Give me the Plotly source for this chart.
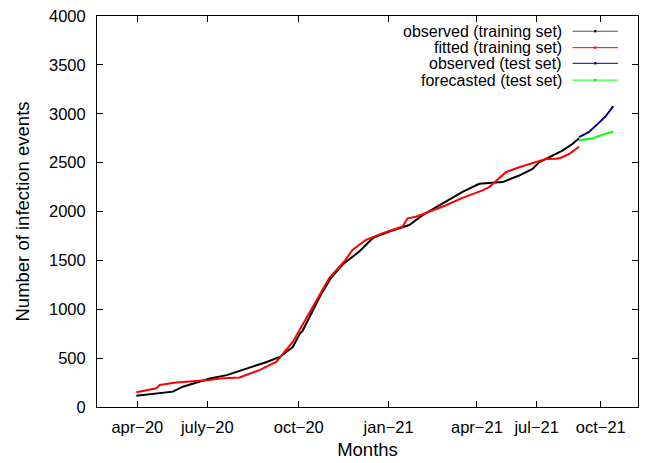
import plotly.graph_objects as go

# x positions are a time index (axis units); tick labels mark months
tick_pos = [40.4, 110.4, 202.0, 292.0, 380.4, 440.2, 504.4]
tick_text = ["apr−20", "july−20", "oct−20", "jan−21", "apr−21", "jul−21", "oct−21"]

obs_train_x = [39.4, 53, 63, 76, 86, 113, 130, 146, 170, 183, 196, 203, 206, 216, 224.4,
               234.4, 246, 262.7, 276, 292.7, 312.7, 326, 346, 366, 382.7, 399.4, 406,
               422.7, 436, 442.7, 452.7, 466, 476, 482.7]
obs_train_y = [116, 130, 145, 157, 208, 292, 326, 377, 461, 512, 613, 748, 782, 985, 1153,
               1322, 1457, 1592, 1727, 1795, 1862, 1963, 2082, 2200, 2284, 2294, 2301,
               2368, 2436, 2503, 2555, 2622, 2690, 2750]

fit_train_x = [39.4, 59.4, 62.7, 79.4, 112.7, 122.7, 142.7, 152.7, 162.7, 179.4, 186, 196,
               204.4, 211, 214.4, 232.7, 247.7, 256, 262.7, 269.4, 286, 299.4, 306, 311,
               319.4, 332.7, 349.4, 366, 386, 392.7, 402.7, 409.4, 422.7, 436, 449.4,
               459.4, 464, 472.7, 482.7]
fit_train_y = [150, 191, 225, 251, 276, 292, 302, 342, 377, 461, 545, 665, 815, 934, 985,
               1322, 1491, 1609, 1660, 1710, 1778, 1828, 1846, 1930, 1947, 1998, 2064,
               2140, 2216, 2250, 2340, 2402, 2453, 2497, 2537, 2540, 2548, 2588, 2662]

obs_test_x = [482.7, 492.7, 502.7, 509.4, 517]
obs_test_y = [2760, 2814, 2909, 2976, 3078]

fc_test_x = [482.7, 489.4, 496, 502.7, 509.4, 517]
fc_test_y = [2730, 2740, 2747, 2774, 2798, 2818]

series_names = ["observed (training set)", "fitted (training set)",
                "observed (test set)", "forecasted (test set)"]
series_colors = ["#000000", "#ff0000", "#00008b", "#00ff00"]
legend_line_colors = ["#555555", "#ff0000", "#00008b", "#00ff00"]

FONT = "Liberation Sans, Arial, Helvetica, sans-serif"

fig = go.Figure()
for xs, ys, name, col in zip([obs_train_x, fit_train_x, obs_test_x, fc_test_x],
                             [obs_train_y, fit_train_y, obs_test_y, fc_test_y],
                             series_names, series_colors):
    fig.add_trace(go.Scatter(x=xs, y=ys, mode="lines", name=name,
                             line=dict(color=col, width=2), showlegend=False))

# gnuplot-style legend: right-aligned text, line sample to the right
leg_y = [0.961, 0.919, 0.879, 0.836]
for name, col, lcol, yy in zip(series_names, series_colors, legend_line_colors, leg_y):
    fig.add_annotation(xref="paper", yref="paper", x=0.863, y=yy, text=name,
                       showarrow=False, xanchor="right", yanchor="middle",
                       font=dict(family=FONT, size=16, color="black"))
    fig.add_shape(type="line", xref="paper", yref="paper", x0=0.879, x1=0.963,
                  y0=yy, y1=yy, line=dict(color=lcol, width=1))
    fig.add_shape(type="rect", xref="paper", yref="paper", x0=0.919, x1=0.923,
                  y0=yy - 0.003, y1=yy + 0.003, line=dict(width=0), fillcolor=col)

axis_common = dict(showline=True, mirror="ticks", linecolor="black", linewidth=1,
                   ticks="inside", ticklen=6, tickcolor="black", tickwidth=1,
                   showgrid=False, zeroline=False,
                   tickfont=dict(family=FONT, size=16.5, color="black"))

fig.update_layout(
    width=645, height=463,
    margin=dict(l=97, r=6, t=16, b=49),
    paper_bgcolor="white", plot_bgcolor="white",
    xaxis=dict(range=[0, 541.7], tickvals=tick_pos, ticktext=tick_text,
               ticklabelstandoff=5,
               title=dict(text="Months", standoff=8,
                          font=dict(family=FONT, size=18.5, color="black")),
               **axis_common),
    yaxis=dict(range=[0, 4000], dtick=500, tick0=0, tickformat="d",
               ticklabelstandoff=7,
               title=dict(text="Number of infection events", standoff=14,
                          font=dict(family=FONT, size=18.5, color="black")),
               **axis_common),
)

# remove the default 8px page margin so the figure fills the window exactly
fig.write_html("out.html", config={"displayModeBar": False},
               post_script="document.body.style.margin='0';document.body.style.overflow='hidden';")
